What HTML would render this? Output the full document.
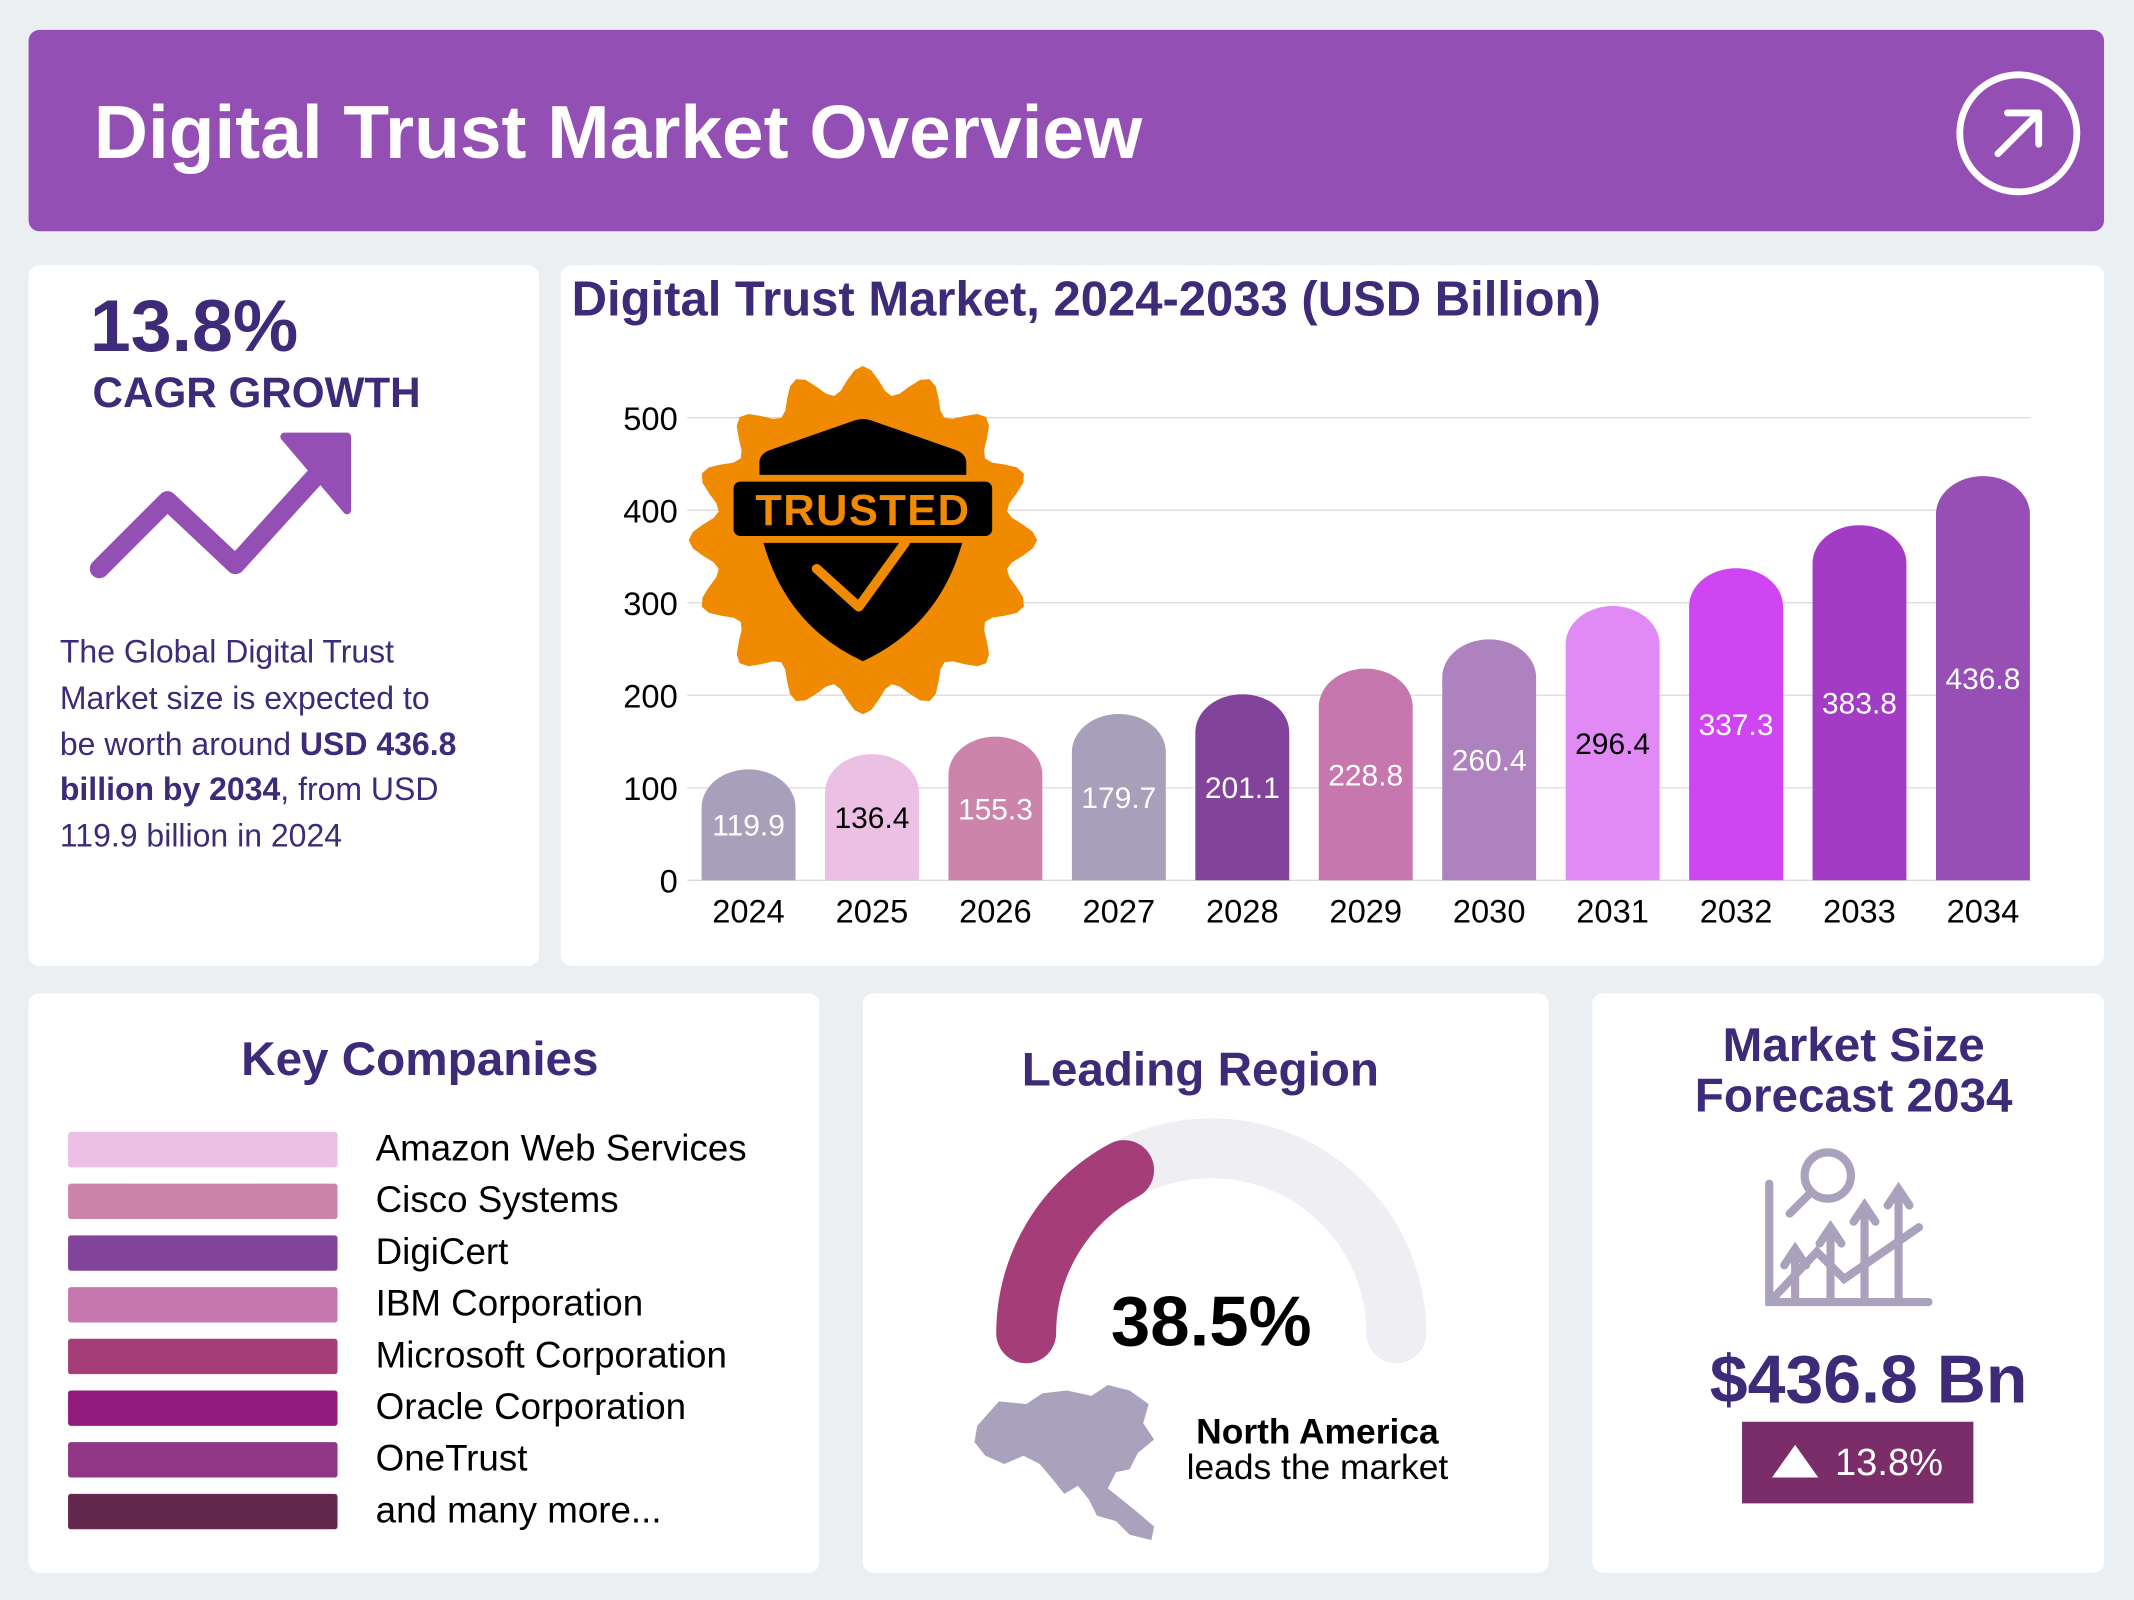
<!DOCTYPE html>
<html><head><meta charset="utf-8"><style>
html,body{margin:0;padding:0;background:#eceff2;width:2134px;height:1600px;overflow:hidden}
#wrap{position:absolute;left:0;top:0;width:1568px;height:1176px;transform:scale(1.36097,1.36054);transform-origin:0 0;font-family:"Liberation Sans",sans-serif;color:#3d2a78}
.card{position:absolute;background:#fff;border-radius:8px}
.abs{position:absolute}
</style></head><body>
<div id="wrap">
<div class="abs" style="left:21px;top:22px;width:1525px;height:148px;background:#944fb5;border-radius:8px">
  <div class="abs" style="left:48px;top:43px;font-size:55px;font-weight:bold;color:#fff;white-space:nowrap">Digital Trust Market Overview</div>
  <svg class="abs" style="left:1414px;top:28px" width="96" height="96" viewBox="0 0 96 96"><circle cx="48" cy="48" r="43" fill="none" stroke="#fff" stroke-width="5"/><path d="M33 63 L62 34 M40 33 H63 V56" fill="none" stroke="#fff" stroke-width="5" stroke-linecap="round" stroke-linejoin="round"/></svg>
</div>

<div class="card" style="left:21px;top:195px;width:375px;height:515px">
  <div class="abs" style="left:45px;top:14px;font-size:54px;font-weight:bold;color:#3d2a78">13.8%</div>
  <div class="abs" style="left:47px;top:76px;font-size:31px;font-weight:bold;color:#3d2a78">CAGR GROWTH</div>
  <svg class="abs" style="left:40px;top:120px" width="210" height="120" viewBox="0 0 210 120"><path d="M12 103 L62 53 L112 100 L180 25" fill="none" stroke="#944fb5" stroke-width="14" stroke-linecap="round" stroke-linejoin="round"/><path d="M148 6 H194 V60 Z" fill="#944fb5" stroke="#944fb5" stroke-width="6" stroke-linejoin="round"/></svg>
  <div class="abs" style="left:23px;top:268px;width:360px;font-size:23.5px;line-height:33.8px;color:#3d2a78;white-space:nowrap">The Global Digital Trust<br>Market size is expected to<br>be worth around <b>USD 436.8</b><br><b>billion by 2034</b>, from USD<br>119.9 billion in 2024</div>
</div>

<div class="card" style="left:412px;top:195px;width:1134px;height:515px"></div>
<div class="abs" style="left:420px;top:199px;font-size:36px;font-weight:bold;color:#3d2a78;white-space:nowrap">Digital Trust Market, 2024-2033 (USD Billion)</div>
<svg id="chart" class="abs" style="left:0;top:0" width="1568" height="720"></svg>

<div class="card" style="left:21px;top:730px;width:581px;height:426px">
  <div class="abs" style="left:0;width:575px;text-align:center;top:29px;font-size:35px;font-weight:bold">Key Companies</div>
  <div id="companies"></div>
</div>

<div class="card" style="left:634px;top:730px;width:504px;height:426px">
  <div class="abs" style="left:0;width:496px;text-align:center;top:37px;font-size:35px;font-weight:bold">Leading Region</div>
  <svg class="abs" style="left:0;top:0" width="504" height="426">
    <path d="M120 250 A136 136 0 0 1 392 250" fill="none" stroke="#efeef3" stroke-width="44" stroke-linecap="round"/>
    <path d="M120 250 A136 136 0 0 1 192 130" fill="none" stroke="#a53d78" stroke-width="44" stroke-linecap="round"/>
    <path d="M84 318 L100 300 L120 302 L132 294 L150 292 L168 296 L180 288 L196 292 L210 302 L206 316 L214 328 L202 338 L196 350 L186 352 L180 364 L190 372 L200 380 L214 392 L212 402 L196 398 L186 388 L172 384 L166 372 L158 362 L148 368 L140 358 L130 346 L118 340 L104 346 L90 340 L82 330 Z" fill="#aaa2bd"/>
  </svg>
  <div class="abs" style="left:0;width:512px;text-align:center;top:212px;font-size:52px;font-weight:bold;color:#000">38.5%</div>
  <div class="abs" style="left:214px;width:240px;text-align:center;top:307px;font-size:26px;font-weight:bold;color:#000">North America</div>
  <div class="abs" style="left:204px;width:260px;text-align:center;top:333px;font-size:26px;color:#000">leads the market</div>
</div>

<div class="card" style="left:1170px;top:730px;width:376px;height:426px">
  <div class="abs" style="left:0;width:384px;text-align:center;top:20px;font-size:35px;line-height:37px;font-weight:bold">Market Size<br>Forecast 2034</div>
  <svg class="abs" style="left:125px;top:110px" width="126" height="122" viewBox="0 0 126 122" fill="none" stroke="#aaa2bd" stroke-width="6" stroke-linecap="round">
    <path d="M5 30 V117 H122"/><circle cx="48" cy="24" r="17"/><path d="M36 36 L20 52"/>
    <path d="M24 114 V82 M16 90 L24 78 L32 90 M50 114 V66 M42 74 L50 62 L58 74 M75 114 V50 M67 58 L75 46 L83 58 M100 114 V38 M92 46 L100 34 L108 46" />
    <path d="M10 112 L40 80 L60 100 L115 62"/>
  </svg>
  <div class="abs" style="left:0;width:406px;text-align:center;top:255px;font-size:50px;font-weight:bold">$436.8 Bn</div>
  <div class="abs" style="left:110px;top:315px;width:170px;height:60px;background:#7b2d6a;color:#fff;font-size:28px;line-height:60px;text-align:center"><span style="display:inline-block;width:0;height:0;border-left:17px solid transparent;border-right:17px solid transparent;border-bottom:24px solid #fff;margin-right:12px;vertical-align:-2px"></span>13.8%</div>
</div>
</div>

<script>
const years=["2024","2025","2026","2027","2028","2029","2030","2031","2032","2033","2034"];
const values=[119.9,136.4,155.3,179.7,201.1,228.8,260.4,296.4,337.3,383.8,436.8];
const yTicks=[0,100,200,300,400,500];
const barColors=["#a89fba","#ecc0e4","#cc84ab","#a89fba","#82449a","#c677ad","#ae82bf","#e18af5","#cf45f1","#a33cc4","#974eb5"];
const labelColors=["#fff","#000","#fff","#fff","#fff","#fff","#fff","#000","#fff","#fff","#fff"];
const companies=["Amazon Web Services","Cisco Systems","DigiCert","IBM Corporation","Microsoft Corporation","Oracle Corporation","OneTrust","and many more..."];
const companyColors=["#ecc0e4","#cc84ab","#82449a","#c677ad","#a53d78","#921c7d","#903684","#64284f"];

const NS="http://www.w3.org/2000/svg";
const svg=document.getElementById('chart');
const y0=647,yMax=307,xStart=550,xStep=90.7,bw=69;
function yScale(v){return y0-(v/500)*(y0-yMax);}
function xScale(i){return xStart+i*xStep;}
function mk(tag,attrs){const e=document.createElementNS(NS,tag);for(const k in attrs)e.setAttribute(k,attrs[k]);svg.appendChild(e);return e;}
yTicks.forEach(t=>{
  const g=mk('line',{x1:505,x2:1492,y1:yScale(t),y2:yScale(t),stroke:'#dcdcdc','stroke-width':1});
  
  
  const l=mk('text',{x:498,y:yScale(t)+9,'text-anchor':'end','font-size':24,fill:'#000','font-family':'Liberation Sans, sans-serif'});
  l.textContent=t;
  
  
});
values.forEach((v,i)=>{
  const x=xScale(i)-bw/2,top=yScale(v),h=y0-top,r=Math.min(28,h);
  const b=mk('path',{d:`M${x} ${y0} V${top+r} A${bw/2} ${r} 0 0 1 ${x+bw} ${top+r} V${y0} Z`,fill:barColors[i]});
  
  
  const t=mk('text',{x:xScale(i),y:(top+y0)/2+8,'text-anchor':'middle','font-size':22,fill:labelColors[i],'font-family':'Liberation Sans, sans-serif'});
  t.textContent=v.toFixed(1);
  
  
  const yl=mk('text',{x:xScale(i),y:678,'text-anchor':'middle','font-size':24,fill:'#000','font-family':'Liberation Sans, sans-serif'});
  yl.textContent=years[i];
  
  
});
// trusted badge
(function(){
  const cx=634,cy=397,n=16;let d='';
  for(let k=0;k<=n*8;k++){const a=k/(n*8)*Math.PI*2-Math.PI/2;const r=118+10*Math.cos(a*n);d+=(k?'L':'M')+(cx+r*Math.cos(a)).toFixed(1)+' '+(cy+r*Math.sin(a)).toFixed(1);}
  const s=mk('path',{d:d+'Z',fill:'#f08a00'});
  
  
  const sh=mk('path',{d:'M558 349 L558 340 Q558 334 565 331 L628 309 Q634 307 640 309 L703 331 Q710 334 710 340 L710 349 Z M561 399 L707 399 Q690 460 634 486 Q578 460 561 399 Z',fill:'#000'});
  
  
  const bx=mk('rect',{x:539,y:354,width:190,height:40,rx:5,fill:'#000'});
  
  
  const tt=mk('text',{x:634,y:386,'text-anchor':'middle','font-size':32,'font-weight':'bold',fill:'#f08a00','font-family':'Liberation Sans, sans-serif','letter-spacing':'1'});
  tt.textContent='TRUSTED';
  
  
  const ck=mk('path',{d:'M600 418 L631 446 L665 399',fill:'none',stroke:'#f08a00','stroke-width':7,'stroke-linecap':'round','stroke-linejoin':'round'});
  
  
})();
const cdiv=document.getElementById('companies');
companies.forEach((c,i)=>{
  const sw=document.createElement('div');
  
  
  sw.className='abs';
  sw.style.cssText=`left:29px;top:${102+i*38}px;width:198px;height:26px;background:${companyColors[i]};border-radius:2px`;
  cdiv.appendChild(sw);
  const lb=document.createElement('div');
  
  
  lb.className='abs';
  lb.style.cssText=`left:255px;top:${99+i*38}px;font-size:27px;color:#000;white-space:nowrap`;
  lb.textContent=c;
  cdiv.appendChild(lb);
});
</script>
</body></html>
